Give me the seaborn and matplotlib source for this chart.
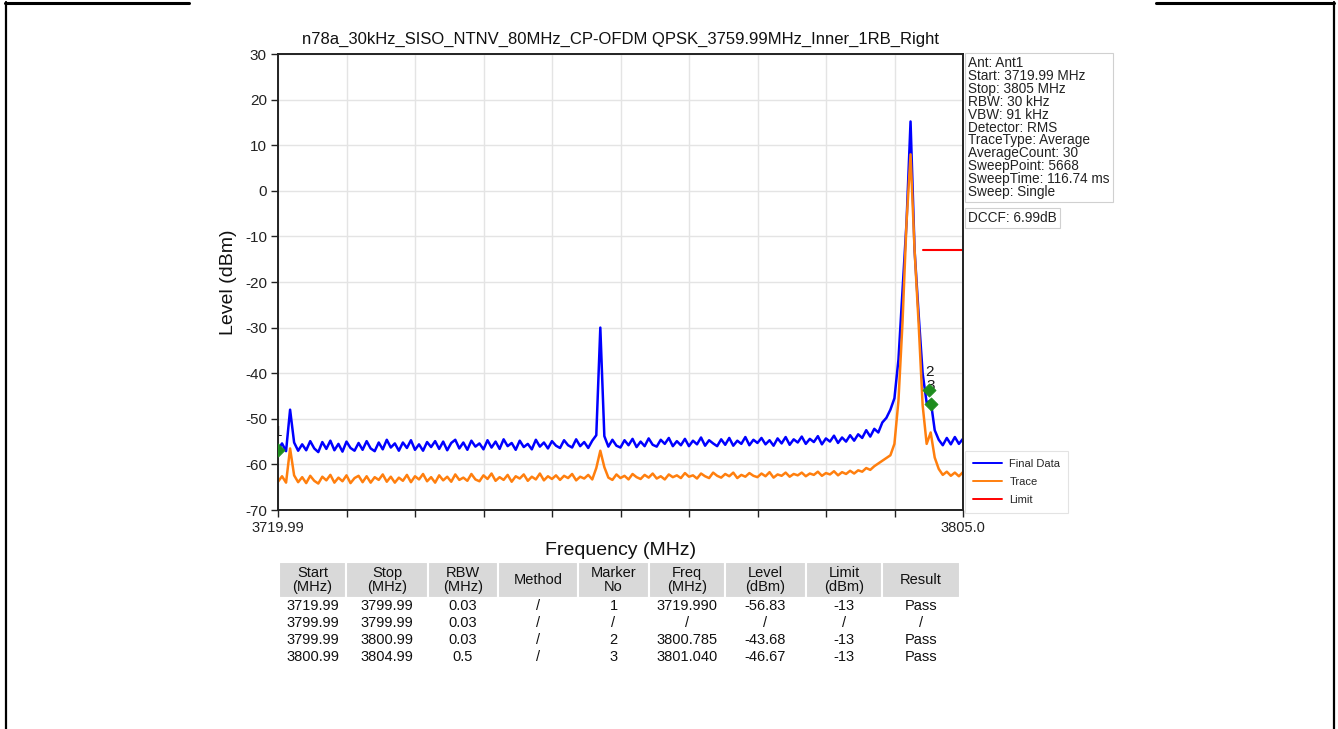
import numpy as np
import pandas as pd
import matplotlib
matplotlib.use("Agg")
import matplotlib.pyplot as plt
import seaborn as sns
from matplotlib.lines import Line2D

# ---------------- data ----------------
title_text = "n78a_30kHz_SISO_NTNV_80MHz_CP-OFDM QPSK_3759.99MHz_Inner_1RB_Right"
sweep_start = 3719.99      # MHz, first sample
sweep_step = 0.5           # MHz between read-off samples
x_min, x_max = 3719.99, 3805.0
y_ticks = [-70, -60, -50, -40, -30, -20, -10, 0, 10, 20, 30]
x_tick_labels = ["3719.99", "", "", "", "", "", "", "", "", "", "3805.0"]

final_data = [
    -56.8, -55.4, -57.1, -48.0, -55.2, -57.0, -55.6, -56.9, -54.9, -56.5,
    -57.3, -55.1, -56.6, -54.8, -56.9, -55.5, -57.2, -55.0, -56.4, -57.0,
    -55.3, -56.8, -54.9, -56.5, -57.1, -55.2, -56.7, -54.6, -56.3, -55.4,
    -57.0, -55.2, -56.4, -54.7, -56.8, -55.6, -57.0, -55.1, -56.2, -54.9,
    -56.6, -55.0, -56.9, -55.3, -54.6, -56.5, -55.2, -56.8, -54.8, -56.1,
    -55.4, -56.7, -54.7, -56.3, -55.0, -56.6, -54.5, -56.0, -55.3, -56.8,
    -54.8, -56.2, -55.5, -56.7, -54.6, -56.1, -55.2, -56.5, -54.9, -55.9,
    -56.4, -54.7, -55.8, -56.3, -54.5, -56.0, -55.1, -56.4, -54.8, -53.6,
    -30.0, -53.8, -56.1, -54.6, -55.9, -56.3, -54.7, -55.8, -54.4, -56.2,
    -55.0, -56.0, -54.3, -55.7, -56.1, -54.6, -55.5, -54.2, -56.0, -54.9,
    -55.8, -54.4, -56.0, -54.8, -55.6, -54.1, -55.9, -54.7, -55.4, -56.0,
    -54.5, -55.7, -54.2, -55.9, -54.8, -55.5, -54.0, -55.8, -54.6, -55.3,
    -54.2, -55.6, -54.7, -55.9, -54.3, -55.4, -54.0, -55.7, -54.5, -55.2,
    -53.9, -55.5, -54.4, -55.1, -53.8, -55.6, -54.3, -55.0, -53.7, -55.3,
    -54.1, -55.0, -53.6, -54.8, -53.4, -54.2, -52.5, -53.9, -52.2, -53.0,
    -50.8, -49.8, -48.0, -45.5, -37.0, -22.0, -7.0, 15.2, -13.0, -27.0,
    -40.0, -46.5, -46.0, -52.5, -54.6, -55.8, -54.2, -55.6, -54.0, -55.5,
    -54.4,
]

trace_data = [
    -63.8, -62.6, -64.0, -56.5, -62.4, -63.9, -62.8, -64.1, -62.5, -63.6,
    -64.2, -62.7, -63.5, -62.3, -64.0, -62.9, -63.7, -62.4, -64.1, -63.0,
    -62.5, -63.9, -62.6, -64.0, -62.8, -63.4, -62.2, -63.8, -62.7, -64.0,
    -62.9, -63.6, -62.3, -63.9, -62.6, -63.3, -62.1, -63.7, -62.8, -64.0,
    -62.4, -63.5, -62.7, -63.8, -62.2, -63.4, -62.9, -63.6, -62.1, -63.3,
    -63.7, -62.4, -63.2, -62.0, -63.6, -62.8, -63.4, -62.3, -63.8, -62.6,
    -63.1, -62.2, -63.6, -62.7, -63.3, -62.0, -63.5, -62.6, -63.2, -62.4,
    -63.4, -62.5, -63.0, -62.1, -63.5, -62.7, -63.1, -62.3, -63.3, -60.8,
    -57.0, -60.6, -62.9, -63.4, -62.2, -63.0, -62.5, -63.3, -62.1, -62.8,
    -63.2, -62.3, -62.9, -62.0, -63.1, -62.6, -63.3, -62.2, -62.8, -62.4,
    -63.0, -61.9, -62.7, -62.4, -63.1, -62.0, -62.6, -63.0, -61.8, -62.5,
    -62.9, -62.1, -62.6, -61.8, -63.0, -62.3, -62.7, -61.9, -62.5, -62.8,
    -62.0, -62.6, -61.7, -62.9, -62.2, -62.5, -61.8, -62.7, -62.1, -62.4,
    -61.8, -62.6, -62.0, -62.3, -61.6, -62.5, -61.9, -62.2, -61.5, -62.4,
    -61.7, -62.1, -61.4, -62.0, -61.3, -61.6, -60.8, -61.2, -60.4, -59.8,
    -59.2, -58.6, -58.0, -55.5, -46.0, -29.0, -7.0, 8.0, -13.0, -29.0,
    -47.0, -55.5, -53.0, -58.5, -61.0, -62.3, -61.6, -62.5, -61.8, -62.6,
    -61.7,
]

limit_freq = [3799.99, 3805.0]
limit_level = [-13, -13]

marker_no = ["1", "2", "3"]
marker_freq = [3719.990, 3800.785, 3801.040]
marker_level = [-56.83, -43.68, -46.67]

info_lines = [
    "Ant: Ant1",
    "Start: 3719.99 MHz",
    "Stop: 3805 MHz",
    "RBW: 30 kHz",
    "VBW: 91 kHz",
    "Detector: RMS",
    "TraceType: Average",
    "AverageCount: 30",
    "SweepPoint: 5668",
    "SweepTime: 116.74 ms",
    "Sweep: Single",
]
dccf_text = "DCCF: 6.99dB"

table_header = ["Start\n(MHz)", "Stop\n(MHz)", "RBW\n(MHz)", "Method", "Marker\nNo",
                "Freq\n(MHz)", "Level\n(dBm)", "Limit\n(dBm)", "Result"]
table_rows = [
    ["3719.99", "3799.99", "0.03", "/", "1", "3719.990", "-56.83", "-13", "Pass"],
    ["3799.99", "3799.99", "0.03", "/", "/", "/", "/", "/", "/"],
    ["3799.99", "3800.99", "0.03", "/", "2", "3800.785", "-43.68", "-13", "Pass"],
    ["3800.99", "3804.99", "0.5", "/", "3", "3801.040", "-46.67", "-13", "Pass"],
]

# ---------------- figure ----------------
W, H = 1338, 729
sns.set_theme(style="ticks")
plt.rcParams["font.family"] = ["Liberation Sans", "DejaVu Sans"]

fig = plt.figure(figsize=(W / 100, H / 100), dpi=100)
fig.patch.set_facecolor("white")

ax = fig.add_axes([278 / W, 1 - 510 / H, 685 / W, 456 / H])

freq = np.round(sweep_start + sweep_step * np.arange(len(final_data)), 3)
df = pd.DataFrame({
    "Frequency": np.concatenate([freq, freq]),
    "Level": final_data + trace_data,
    "Series": ["Final Data"] * len(final_data) + ["Trace"] * len(trace_data),
})
palette = {"Final Data": "#0000ff", "Trace": "#ff7f0e"}
sns.lineplot(data=df, x="Frequency", y="Level", hue="Series", palette=palette,
             hue_order=["Final Data", "Trace"], estimator=None, sort=False,
             linewidth=1.8, legend=False, ax=ax)
sns.lineplot(x=limit_freq, y=limit_level, color="#ff0000", linewidth=1.5, ax=ax)

# markers
text_color = "#1a1a1a"
for no, f, lv in zip(marker_no, marker_freq, marker_level):
    ax.annotate(no, xy=(f, lv), xytext=(0, 13), textcoords="offset points",
                ha="center", va="center", fontsize=11, color=text_color,
                zorder=4, annotation_clip=False, clip_on=True)
sns.scatterplot(x=marker_freq, y=marker_level, marker="D", color="#1e8c1e",
                edgecolor="#1e8c1e", s=45, zorder=6, ax=ax, legend=False)

ax.set_xlim(x_min, x_max)
ax.set_ylim(-70, 30)
ax.set_xticks(np.linspace(x_min, x_max, len(x_tick_labels)))
ax.set_xticklabels(x_tick_labels, fontsize=10.5)
ax.set_yticks(y_ticks)
ax.set_yticklabels([str(v) for v in y_ticks], fontsize=11)
ax.tick_params(direction="out", length=5, width=1.0, colors="#222222", pad=3)
ax.grid(True, color="#e4e4e4", linewidth=1.0)
ax.set_axisbelow(True)
for sp in ax.spines.values():
    sp.set_visible(True)
    sp.set_color("#222222")
    sp.set_linewidth(1.4)
ax.set_title(title_text, fontsize=12, pad=7, color="#111111")
ax.set_xlabel("Frequency (MHz)", fontsize=14, labelpad=5, color="#111111")
ax.set_ylabel("Level (dBm)", fontsize=14, labelpad=6, color="#111111")

# legend
handles = [Line2D([], [], color="#0000ff", lw=1.4),
           Line2D([], [], color="#ff7f0e", lw=1.4),
           Line2D([], [], color="#ff0000", lw=1.4)]
leg = ax.legend(handles, ["Final Data", "Trace", "Limit"], loc="lower left",
                bbox_to_anchor=(965 / W, 1 - 513 / H), bbox_transform=fig.transFigure,
                fontsize=8, frameon=True, fancybox=False, handlelength=2.6,
                handletextpad=0.7, labelspacing=0.75, borderpad=0.7, borderaxespad=0)
leg.get_frame().set_edgecolor("#dddddd")
leg.get_frame().set_linewidth(0.8)

# info boxes
fig.text(968 / W, 1 - 56 / H, "\n".join(info_lines), fontsize=9.8, va="top", ha="left",
         linespacing=0.9, color="#222222",
         bbox=dict(boxstyle="square,pad=0.25", fc="white", ec="#d0d0d0", lw=0.8))
fig.text(968 / W, 1 - 218 / H, dccf_text, fontsize=9.8, va="center", ha="left",
         color="#222222",
         bbox=dict(boxstyle="square,pad=0.25", fc="white", ec="#d0d0d0", lw=0.8))

# table
tax = fig.add_axes([279 / W, 1 - 665 / H, 681 / W, 103 / H])
tax.axis("off")
col_w = [67, 82, 70, 80, 71, 76, 81, 76, 78]
col_w = [c / sum(col_w) for c in col_w]
tbl = tax.table(cellText=table_rows, colLabels=table_header, cellLoc="center",
                colWidths=col_w, bbox=[0, 0, 1, 1])
tbl.auto_set_font_size(False)
tbl.set_fontsize(10.5)
for (r, c), cell in tbl.get_celld().items():
    cell.set_edgecolor("white")
    cell.set_linewidth(1.5)
    cell.get_text().set_color("#111111")
    if r == 0:
        cell.set_facecolor("#d9d9d9")
        cell.set_height(2.15)
        cell.get_text().set_linespacing(0.95)
    else:
        cell.set_facecolor("white")
        cell.set_height(1.0)

# page frame lines
frame_kw = dict(transform=fig.transFigure, color="black")
fig.add_artist(Line2D([5 / W, 189 / W], [1 - 3 / H, 1 - 3 / H], lw=2.2, **frame_kw))
fig.add_artist(Line2D([1156 / W, 1334 / W], [1 - 3 / H, 1 - 3 / H], lw=2.2, **frame_kw))
fig.add_artist(Line2D([6 / W, 6 / W], [0, 1 - 2 / H], lw=1.6, **frame_kw))
fig.add_artist(Line2D([1333.5 / W, 1333.5 / W], [0, 1 - 2 / H], lw=1.6, **frame_kw))

fig.savefig("out.png", dpi=100, facecolor="white")
